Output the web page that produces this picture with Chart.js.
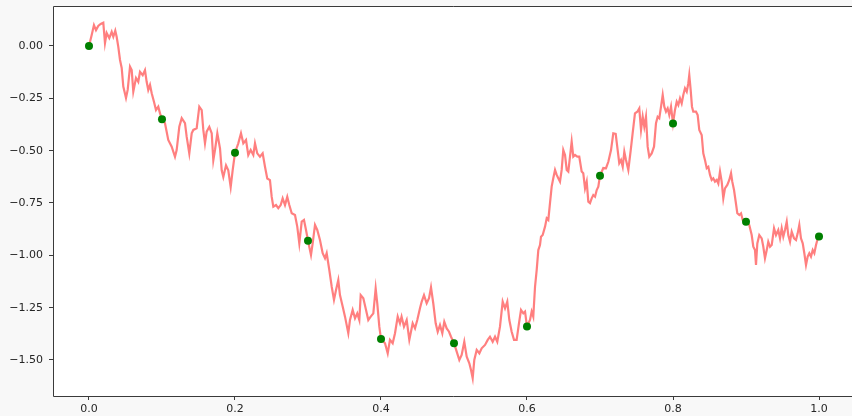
<!DOCTYPE html>
<html>
<head>
<meta charset="utf-8">
<title>Random walk with samples</title>
<script src="https://cdn.jsdelivr.net/npm/chart.js@4.4.1/dist/chart.umd.min.js"></script>
<style>
    html, body { margin: 0; padding: 0; background: #f8f8f8; }
    #walkChart { display: block; }
</style>
</head>
<body>
<canvas id="walkChart" width="852" height="416"></canvas>
<script>
// Walk path: [t, value]
const walk = [
    [0,0],[0.0037,0.053],[0.0068,0.100],[0.0096,0.076],[0.0127,0.096],[0.0160,0.105],[0.0196,0.111],[0.0219,0.014],[0.0242,0.062],[0.0278,0.038],
    [0.0311,0.068],[0.0333,0.044],[0.0360,0.073],[0.0379,0.044],[0.0401,-0.003],[0.0425,-0.067],[0.0448,-0.105],[0.0470,-0.194],[0.0507,-0.248],[0.0530,-0.210],
    [0.0562,-0.099],[0.0585,-0.115],[0.0607,-0.218],[0.0644,-0.153],[0.0675,-0.171],[0.0699,-0.123],[0.0736,-0.139],[0.0767,-0.115],[0.0790,-0.171],[0.0812,-0.210],
    [0.0836,-0.186],[0.0859,-0.226],[0.0890,-0.266],[0.0918,-0.306],[0.0949,-0.290],[0.0973,-0.322],[0.1000,-0.350],[0.1041,-0.369],[0.1086,-0.449],[0.1133,-0.481],
    [0.1178,-0.529],[0.1201,-0.497],[0.1237,-0.386],[0.1270,-0.345],[0.1315,-0.369],[0.1338,-0.433],[0.1374,-0.513],[0.1407,-0.417],[0.1429,-0.401],[0.1475,-0.393],
    [0.1511,-0.290],[0.1544,-0.306],[0.1566,-0.401],[0.1589,-0.465],[0.1612,-0.409],[0.1648,-0.386],[0.1681,-0.417],[0.1703,-0.546],[0.1726,-0.497],[0.1758,-0.417],
    [0.1795,-0.490],[0.1818,-0.594],[0.1840,-0.626],[0.1877,-0.570],[0.1908,-0.594],[0.1941,-0.674],[0.1968,-0.594],[0.2000,-0.510],[0.2045,-0.465],[0.2082,-0.417],
    [0.2114,-0.465],[0.2151,-0.449],[0.2182,-0.521],[0.2215,-0.497],[0.2251,-0.521],[0.2274,-0.465],[0.2305,-0.513],[0.2342,-0.529],[0.2379,-0.513],[0.2411,-0.577],
    [0.2442,-0.633],[0.2479,-0.641],[0.2503,-0.721],[0.2525,-0.768],[0.2562,-0.760],[0.2593,-0.775],[0.2626,-0.760],[0.2653,-0.728],[0.2685,-0.760],[0.2716,-0.721],
    [0.2744,-0.760],[0.2777,-0.799],[0.2822,-0.807],[0.2853,-0.863],[0.2881,-0.943],[0.2914,-0.839],[0.2945,-0.831],[0.2973,-0.879],[0.3000,-0.930],[0.3041,-0.998],
    [0.3064,-0.943],[0.3096,-0.855],[0.3127,-0.879],[0.3164,-0.927],[0.3201,-0.990],[0.3233,-1.014],[0.3256,-0.990],[0.3292,-1.070],[0.3325,-1.150],[0.3356,-1.213],
    [0.3384,-1.166],[0.3415,-1.118],[0.3438,-1.190],[0.3475,-1.245],[0.3507,-1.293],[0.3552,-1.372],[0.3575,-1.309],[0.3612,-1.261],[0.3644,-1.301],[0.3675,-1.277],
    [0.3703,-1.309],[0.3722,-1.190],[0.3758,-1.205],[0.3795,-1.261],[0.3826,-1.309],[0.3859,-1.293],[0.3895,-1.277],[0.3927,-1.158],[0.3949,-1.229],[0.3977,-1.341],
    [0.4000,-1.400],[0.4055,-1.420],[0.4092,-1.468],[0.4123,-1.404],[0.4160,-1.420],[0.4192,-1.372],[0.4229,-1.293],[0.4260,-1.325],[0.4282,-1.293],[0.4315,-1.341],
    [0.4352,-1.309],[0.4388,-1.404],[0.4434,-1.325],[0.4466,-1.349],[0.4497,-1.309],[0.4534,-1.253],[0.4558,-1.221],[0.4589,-1.190],[0.4626,-1.229],[0.4658,-1.205],
    [0.4685,-1.153],[0.4716,-1.229],[0.4749,-1.325],[0.4777,-1.365],[0.4808,-1.333],[0.4840,-1.372],[0.4867,-1.317],[0.4900,-1.349],[0.4932,-1.365],[0.4959,-1.389],
    [0.5000,-1.420],[0.5037,-1.460],[0.5073,-1.500],[0.5105,-1.476],[0.5141,-1.413],[0.5174,-1.484],[0.5210,-1.516],[0.5233,-1.548],[0.5256,-1.587],[0.5278,-1.500],
    [0.5311,-1.452],[0.5347,-1.468],[0.5379,-1.444],[0.5425,-1.428],[0.5462,-1.404],[0.5493,-1.389],[0.5530,-1.413],[0.5562,-1.389],[0.5593,-1.413],[0.5630,-1.341],
    [0.5667,-1.221],[0.5699,-1.253],[0.5730,-1.221],[0.5758,-1.309],[0.5790,-1.365],[0.5822,-1.404],[0.5858,-1.404],[0.5890,-1.325],[0.5918,-1.261],[0.5949,-1.277],
    [0.5973,-1.269],[0.6000,-1.340],[0.6041,-1.309],[0.6064,-1.269],[0.6086,-1.293],[0.6110,-1.150],[0.6133,-1.070],[0.6155,-0.975],[0.6178,-0.951],[0.6192,-0.911],
    [0.6215,-0.903],[0.6247,-0.863],[0.6270,-0.823],[0.6292,-0.831],[0.6315,-0.751],[0.6338,-0.672],[0.6360,-0.632],[0.6384,-0.592],[0.6407,-0.616],[0.6429,-0.632],
    [0.6452,-0.648],[0.6475,-0.592],[0.6497,-0.497],[0.6521,-0.521],[0.6544,-0.592],[0.6566,-0.600],[0.6589,-0.529],[0.6612,-0.457],[0.6634,-0.529],[0.6658,-0.521],
    [0.6689,-0.529],[0.6716,-0.529],[0.6749,-0.600],[0.6771,-0.608],[0.6795,-0.680],[0.6818,-0.648],[0.6840,-0.744],[0.6863,-0.751],[0.6886,-0.728],[0.6908,-0.712],
    [0.6932,-0.720],[0.6955,-0.688],[0.6977,-0.672],[0.7000,-0.620],[0.7045,-0.583],[0.7082,-0.584],[0.7114,-0.553],[0.7151,-0.497],[0.7182,-0.417],[0.7215,-0.420],
    [0.7242,-0.497],[0.7264,-0.560],[0.7288,-0.545],[0.7311,-0.577],[0.7333,-0.505],[0.7356,-0.545],[0.7388,-0.592],[0.7421,-0.497],[0.7447,-0.417],[0.7479,-0.322],
    [0.7511,-0.314],[0.7538,-0.298],[0.7562,-0.401],[0.7585,-0.338],[0.7607,-0.386],[0.7630,-0.338],[0.7653,-0.481],[0.7675,-0.529],[0.7708,-0.513],[0.7740,-0.481],
    [0.7767,-0.369],[0.7790,-0.338],[0.7812,-0.345],[0.7836,-0.290],[0.7859,-0.234],[0.7881,-0.290],[0.7904,-0.314],[0.7927,-0.298],[0.7949,-0.330],[0.7973,-0.290],
    [0.8000,-0.370],[0.8027,-0.306],[0.8051,-0.266],[0.8073,-0.282],[0.8096,-0.250],[0.8119,-0.274],[0.8141,-0.234],[0.8164,-0.202],[0.8188,-0.218],[0.8210,-0.178],
    [0.8223,-0.139],[0.8242,-0.210],[0.8260,-0.290],[0.8278,-0.314],[0.8315,-0.314],[0.8338,-0.330],[0.8360,-0.401],[0.8393,-0.425],[0.8415,-0.513],[0.8438,-0.545],
    [0.8462,-0.584],[0.8484,-0.577],[0.8507,-0.616],[0.8530,-0.640],[0.8552,-0.632],[0.8575,-0.648],[0.8599,-0.640],[0.8621,-0.657],[0.8644,-0.600],[0.8667,-0.648],
    [0.8689,-0.728],[0.8712,-0.680],[0.8744,-0.664],[0.8771,-0.640],[0.8795,-0.608],[0.8812,-0.648],[0.8836,-0.688],[0.8859,-0.744],[0.8881,-0.799],[0.8908,-0.807],
    [0.8932,-0.799],[0.8955,-0.831],[0.9000,-0.840],[0.9045,-0.855],[0.9078,-0.903],[0.9100,-0.959],[0.9123,-0.975],[0.9137,-1.046],[0.9155,-0.943],[0.9182,-0.903],
    [0.9215,-0.919],[0.9237,-0.959],[0.9260,-1.014],[0.9284,-0.975],[0.9305,-0.935],[0.9329,-0.959],[0.9352,-0.951],[0.9384,-0.871],[0.9411,-0.903],[0.9442,-0.879],
    [0.9466,-0.919],[0.9489,-0.871],[0.9511,-0.911],[0.9534,-0.879],[0.9558,-0.839],[0.9579,-0.903],[0.9603,-0.935],[0.9626,-0.887],[0.9658,-0.919],[0.9685,-0.927],
    [0.9708,-0.895],[0.9730,-0.855],[0.9753,-0.919],[0.9777,-0.943],[0.9799,-0.990],[0.9822,-1.046],[0.9845,-1.006],[0.9867,-0.990],[0.9890,-1.006],[0.9914,-0.975],
    [0.9936,-0.990],[0.9959,-0.951],[0.9977,-0.927],[1.0000,-0.910]
];

// Samples taken every 0.1
const sampleT = [0, 0.1, 0.2, 0.3, 0.4, 0.5, 0.6, 0.7, 0.8, 0.9, 1.0];
const sampleV = [0, -0.35, -0.51, -0.93, -1.40, -1.42, -1.34, -0.62, -0.37, -0.84, -0.91];

const xTicks = [0, 0.2, 0.4, 0.6, 0.8, 1.0];
const yTicks = [0, -0.25, -0.5, -0.75, -1.0, -1.25, -1.5];

const X_MIN = -0.0493, X_MAX = 1.0452;
const Y_MIN = -1.672, Y_MAX = 0.191;

const FONT = { family: '"DejaVu Sans", sans-serif', size: 11 };
const INK = '#262626';
const SPINE = '#3a3a3a';

const minus = s => s.replace('-', '\u2212');

// white axes face, grey page around it, spines on top/left/bottom
const axesFrame = {
    id: 'axesFrame',
    beforeDraw(chart) {
        const { ctx, chartArea: a } = chart;
        ctx.save();
        ctx.fillStyle = '#ffffff';
        ctx.fillRect(a.left, a.top, a.right - a.left, a.bottom - a.top);
        ctx.restore();
    },
    afterDraw(chart) {
        const { ctx, chartArea: a } = chart;
        ctx.save();
        ctx.strokeStyle = SPINE;
        ctx.lineWidth = 1;
        ctx.beginPath();
        ctx.moveTo(a.right + 1, a.top + 0.5);
        ctx.lineTo(a.left + 0.5, a.top + 0.5);
        ctx.lineTo(a.left + 0.5, a.bottom + 0.5);
        ctx.lineTo(a.right + 1, a.bottom + 0.5);
        ctx.stroke();
        ctx.restore();
    }
};

// keep the plot box fixed: no extra room for half-labels at the ends
const fitX = s => { s.height = 20; s.paddingLeft = 0; s.paddingRight = 0; };
const fitY = s => { s.width = 53; s.paddingTop = 0; s.paddingBottom = 0; };

const ctx = document.getElementById('walkChart').getContext('2d');
new Chart(ctx, {
    type: 'line',
    data: {
        datasets: [
            {
                type: 'scatter',
                data: sampleT.map((t, i) => ({ x: t, y: sampleV[i] })),
                backgroundColor: '#008000',
                borderColor: '#008000',
                pointRadius: 4,
                borderWidth: 0,
                order: 0
            },
            {
                data: walk.map(p => ({ x: p[0], y: p[1] })),
                borderColor: 'rgba(255, 0, 0, 0.5)',
                borderWidth: 2.2,
                pointRadius: 0,
                tension: 0,
                fill: false,
                order: 1
            }
        ]
    },
    options: {
        responsive: false,
        animation: false,
        devicePixelRatio: 1,
        layout: { autoPadding: false, padding: { top: 6, right: 0, left: 0, bottom: 0 } },
        plugins: {
            legend: { display: false },
            tooltip: { enabled: false }
        },
        scales: {
            x: {
                type: 'linear',
                min: X_MIN,
                max: X_MAX,
                afterBuildTicks: s => { s.ticks = xTicks.map(v => ({ value: v })); },
                afterFit: fitX,
                border: { display: false },
                grid: { drawOnChartArea: false, drawTicks: true, tickLength: 4, color: SPINE, lineWidth: 1 },
                ticks: {
                    font: FONT,
                    color: INK,
                    padding: 3,
                    maxRotation: 0,
                    callback: v => minus(v.toFixed(1))
                }
            },
            y: {
                type: 'linear',
                min: Y_MIN,
                max: Y_MAX,
                afterBuildTicks: s => { s.ticks = yTicks.map(v => ({ value: v })); },
                afterFit: fitY,
                border: { display: false },
                grid: { drawOnChartArea: false, drawTicks: true, tickLength: 4, color: SPINE, lineWidth: 1 },
                ticks: {
                    font: FONT,
                    color: INK,
                    padding: 6,
                    callback: v => minus(v.toFixed(2))
                }
            }
        }
    },
    plugins: [axesFrame]
});
</script>
</body>
</html>
